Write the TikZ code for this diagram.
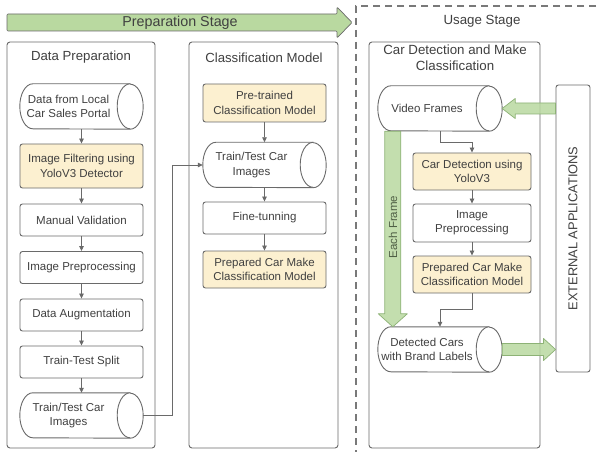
\documentclass[tikz,border=0pt]{standalone}
\usepackage{fontspec}
\setmainfont{Liberation Sans}
\usetikzlibrary{calc,arrows.meta}
\definecolor{ln}{HTML}{6A6A6A}
\definecolor{tx}{HTML}{404040}
\definecolor{yel}{HTML}{FCF0D0}
\definecolor{grn}{HTML}{B9D9A0}
\definecolor{grnb}{HTML}{8DB276}
\definecolor{eft}{HTML}{4F5F45}
\tikzset{
 base/.style={draw=ln, line width=0.9pt, rounded corners=2.5pt, fill=white, align=center, text=tx, font=\fontsize{11.5}{14.3}\selectfont, inner sep=0pt},
 wbox/.style={base, minimum width=123pt},
 ybox/.style={wbox, fill=yel},
 cont/.style={draw=ln, line width=0.9pt, rounded corners=3pt, inner sep=0pt},
 title/.style={text=tx, font=\fontsize{13.2}{15.5}\selectfont, align=center, inner sep=0pt},
 cylbox/.style={inner sep=0pt, minimum width=#1, minimum height=45pt},
 cylline/.style={draw=ln, line width=0.9pt, fill=white},
 cyltxt/.style={text=tx, align=center, font=\fontsize{11.5}{14.3}\selectfont, inner sep=0pt},
 conn/.style={draw=ln, line width=0.8pt, -{Triangle[length=5pt,width=4.5pt]}},
 garrow/.style={fill=grn, fill opacity=0.85, draw=grnb, line width=0.7pt, line join=round},
 stagebox/.style={draw=ln!90, line width=1.2pt, dash pattern=on 7pt off 5pt},
}
\newcommand\cylnode[5]{%
 \node[cylbox=#4] (#1) at (#2,#3) {};
 \draw[cylline] ($(#1.north east)+(-13,0)$) -- ($(#1.north west)+(13,0)$) arc[start angle=270,end angle=90,x radius=13,y radius=22.5] -- ($(#1.south east)+(-13,0)$) arc[start angle=90,end angle=-90,x radius=13,y radius=22.5] -- cycle;
 \draw[cylline] ($(#1.north east)+(-13,0)$) arc[start angle=270,end angle=90,x radius=13,y radius=22.5];
 \node[cyltxt] (#1t) at ($(#1.center)+(-13,0)$) {#5};
}
\begin{document}
\begin{tikzpicture}[x=1pt,y=-1pt]
\useasboundingbox (0,0) rectangle (598,452);
\fill[white] (0,0) rectangle (598,452);

% Usage stage dashed frame
\draw[stagebox] (620,6) -- (356,6) -- (356,470);
\node[title, font=\fontsize{13.3}{15.5}\selectfont] (ust) at (482,21) {Usage Stage};

% Preparation stage arrow
\draw[garrow, fill opacity=1, draw=ln, rounded corners=1pt] (7,14) -- (337,14) -- (337,7) -- (352,22.5) -- (337,38) -- (337,31) -- (7,31) -- cycle;
\node[title, font=\fontsize{14.3}{16}\selectfont] (pst) at (180,22.5) {Preparation Stage};

% Data Preparation
\node[cont, minimum width=148pt, minimum height=406pt] (dp) at (81,245) {};
\node[title] (dpt) at (81,57) {Data Preparation};
\cylnode{d1}{81.5}{106.5}{123pt}{Data from Local\\Car Sales Portal}
\node[ybox, minimum height=44pt] (d2) at (81.5,166) {Image Filtering using\\YoloV3 Detector};
\node[wbox, minimum height=32pt] (d3) at (81.5,220) {Manual Validation};
\node[wbox, minimum height=32pt] (d4) at (81.5,267.5) {Image Preprocessing};
\node[wbox, minimum height=32pt] (d5) at (81.5,315) {Data Augmentation};
\node[wbox, minimum height=32pt] (d6) at (81.5,362) {Train-Test Split};
\cylnode{d7}{81.5}{415.5}{123pt}{Train/Test Car\\Images}
\foreach \a/\b in {d1/d2,d2/d3,d3/d4,d4/d5,d5/d6,d6/d7}
  \draw[conn] (\a.south) -- (\b.north);

% Classification Model
\node[cont, minimum width=149pt, minimum height=406pt] (cm) at (263.5,245) {};
\node[title] (cmt) at (264,58) {Classification Model};
\node[ybox, minimum height=38pt] (c1) at (264.5,103) {Pre-trained\\Classification Model};
\cylnode{c2}{264.5}{165}{123pt}{Train/Test Car\\Images}
\node[wbox, minimum height=32pt] (c3) at (264.5,218) {Fine-tunning};
\node[ybox, minimum height=37pt] (c4) at (264.5,269.5) {Prepared Car Make\\Classification Model};
\foreach \a/\b in {c1/c2,c2/c3,c3/c4}
  \draw[conn] (\a.south) -- (\b.north);
\draw[conn] (d7.east) -- ++(29,0) |- (c2.west);

% Car Detection and Make Classification
\node[cont, minimum width=171pt, minimum height=406pt] (cd) at (454.5,245) {};
\node[title, font=\fontsize{13.3}{15.5}\selectfont] (cdt) at (455,57.5) {Car Detection and Make\\Classification};
\cylnode{u1}{440}{108.5}{124pt}{Video Frames}
\node[ybox, minimum width=118pt, minimum height=37pt] (u2) at (472,171.5) {Car Detection using\\YoloV3};
\node[wbox, minimum width=118pt, minimum height=38pt] (u3) at (472,223) {Image\\Preprocessing};
\node[ybox, minimum width=118pt, minimum height=37pt] (u4) at (472,274.5) {Prepared Car Make\\Classification Model};
\cylnode{u5}{440}{349.5}{124pt}{Detected Cars\\with Brand Labels}
\draw[conn] (u1.south) -- ++(0,11) -| (u2.north);
\draw[conn] (u2.south) -- (u3.north);
\draw[conn] (u3.south) -- (u4.north);
\draw[conn] (u4.south) -- ++(0,16) -| (u5.north);

% External applications
\node[base, minimum width=34pt, minimum height=287pt] (ext) at (573,228.5) {};
\node[rotate=90, text=tx, font=\fontsize{12.85}{15}\selectfont, inner sep=0pt] (extt) at (ext.center) {EXTERNAL APPLICATIONS};

% Green arrows
\coordinate (ga) at (ext.west |- u1.east);
\draw[garrow] ($(ga)+(0,-5.5)$) -- ($(u1.east)+(13,-5.5)$) -- ($(u1.east)+(13,-10)$) -- (u1.east) -- ($(u1.east)+(13,10)$) -- ($(u1.east)+(13,5.5)$) -- ($(ga)+(0,5.5)$) -- cycle;
\coordinate (gb) at (ext.west |- u5.east);
\draw[garrow] ($(u5.east)+(0,-6)$) -- ($(gb)+(-12,-6)$) -- ($(gb)+(-12,-11)$) -- (gb) -- ($(gb)+(-12,11)$) -- ($(gb)+(-12,6)$) -- ($(u5.east)+(0,6)$) -- cycle;
\coordinate (gt) at ($(u1.south west)+(15,0)$);
\coordinate (gc) at (gt |- u5.north);
\draw[garrow] ($(gt)+(-8,0)$) -- ($(gc)+(-8,-13)$) -- ($(gc)+(-14.5,-13)$) -- (gc) -- ($(gc)+(14.5,-13)$) -- ($(gc)+(8,-13)$) -- ($(gt)+(8,0)$) -- cycle;
\node[rotate=90, text=eft, font=\fontsize{11.5}{14}\selectfont, inner sep=0pt] (eft) at (393,227) {Each Frame};
\end{tikzpicture}
\end{document}
